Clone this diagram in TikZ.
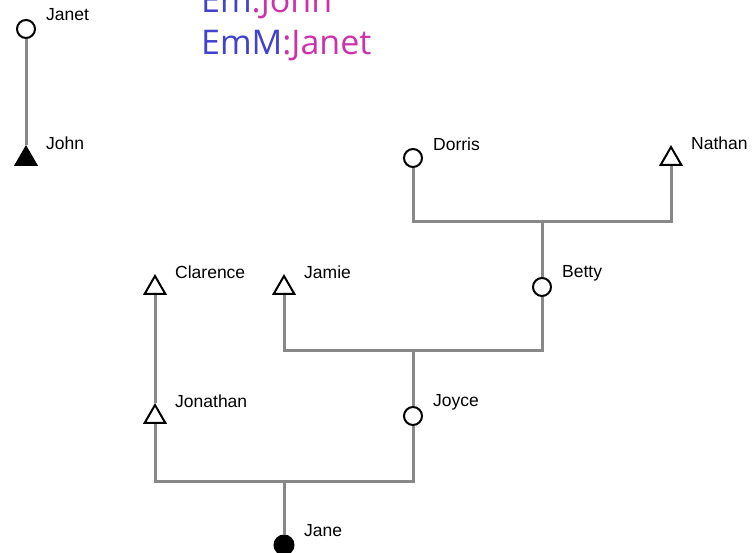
\documentclass[tikz,border=0pt]{standalone}
\usepackage{fontspec}
\setmainfont{Liberation Sans}
\newfontfamily\headfont{Open Sans}
\usetikzlibrary{shapes.geometric, positioning}
\definecolor{emblue}{RGB}{66,66,204}
\definecolor{emmag}{RGB}{204,51,170}
\definecolor{linkgray}{RGB}{136,136,136}

\begin{document}
\begin{tikzpicture}[x=1pt,y=-1pt,
  fem/.style={circle,draw=black,line width=2pt,fill=white,minimum size=18pt,inner sep=0pt},
  male/.style={regular polygon,regular polygon sides=3,draw=black,line width=2pt,fill=white,minimum size=24pt,inner sep=0pt},
  me/.style={fill=black},
  tag/.style={anchor=west,inner sep=0pt,font=\fontsize{17.5}{20}\selectfont},
  head/.style={anchor=base west,inner sep=0pt,font=\headfont\fontsize{34}{40}\selectfont},
  link/.style={draw=linkgray,line width=3pt}
]
  \useasboundingbox (0,0) rectangle (753,553);
  % people
  \node[fem](janet) at (26,29) {};
  \node[male,me](john) at (26,159) {};
  \node[fem](dorris) at (413,158) {};
  \node[male](nathan) at (671,159) {};
  \node[fem](betty) at (542,287) {};
  \node[male](clarence) at (155,288) {};
  \node[male](jamie) at (284,288) {};
  \node[fem](joyce) at (413,416) {};
  \node[male](jonathan) at (155,417) {};
  \node[fem,me,minimum size=19pt](jane) at (284,545) {};

  \coordinate (m1) at (542,222);
  \coordinate (m2) at (413,351);
  \coordinate (m3) at (284,481);

  % names
  \foreach \n/\t in {janet/Janet,dorris/Dorris,betty/Betty,joyce/Joyce,jane/Jane}{
    \node[tag](\n-t) at ([shift={(20,-14)}]\n.center) {\t};}
  \foreach \n/\t in {john/John,nathan/Nathan,clarence/Clarence,jamie/Jamie,jonathan/Jonathan}{
    \node[tag](\n-t) at ([shift={(20,-16)}]\n.center) {\t};}

  \node[head](emline) at (201,13) {\textcolor{emblue}{Em}\textcolor{emmag}{:John}};
  \node[head](emmline) at (201,55) {\textcolor{emblue}{EmM}\textcolor{emmag}{:Janet}};

  % lines
  \draw[link] (janet) -- (john);
  \draw[link] (dorris) |- (m1) -| (nathan);
  \draw[link] (jamie) |- (m2) -| (betty);
  \draw[link] (jonathan) |- (m3) -| (joyce);
  \foreach \x/\y in {m1/betty,m2/joyce,m3/jane,clarence/jonathan}{\draw[link](\x)--(\y);}
\end{tikzpicture}
\end{document}
